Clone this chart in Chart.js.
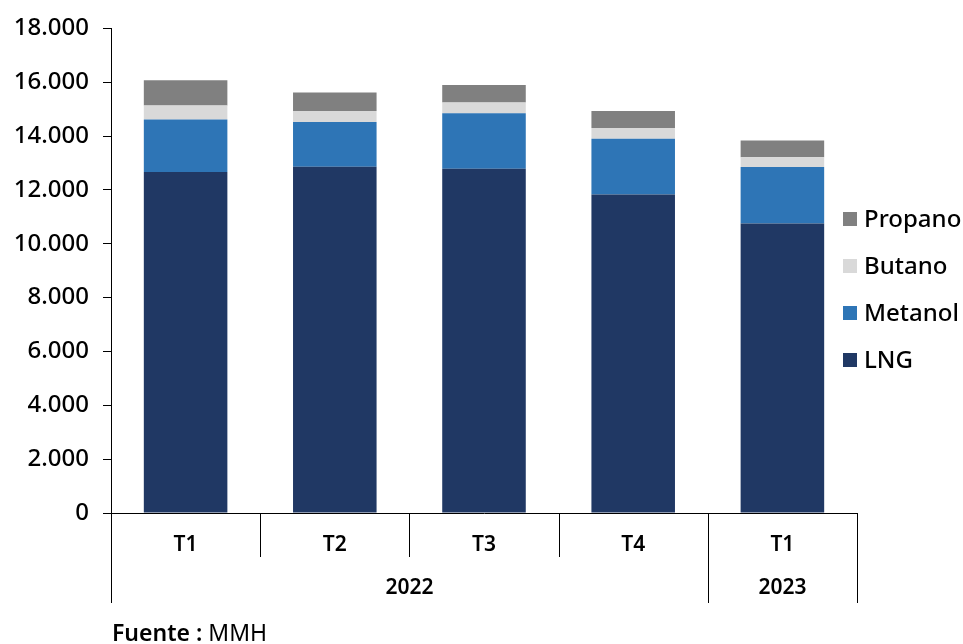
<!DOCTYPE html>
<html>
<head>
<meta charset="utf-8">
<script src="https://cdn.jsdelivr.net/npm/chart.js@4"></script>
<style>
  body { margin: 0; background: #fff; }
  #wrap { width: 963px; height: 644px; }
</style>
</head>
<body>
<div id="wrap"><canvas id="gasChart"></canvas></div>
<script>
const categories = ["T1", "T2", "T3", "T4", "T1"];
const years = ["2022", "2022", "2022", "2022", "2023"];
const lng = [12670, 12860, 12790, 11830, 10750];
const metanol = [1950, 1660, 2060, 2070, 2100];
const butano = [520, 410, 400, 400, 360];
const propano = [930, 690, 650, 630, 630];
const yMax = 18000;
const yStep = 2000;

const FONT = "'Noto Sans', 'DejaVu Sans', sans-serif";

const fmt = (v) => String(v).replace(/\B(?=(\d{3})+(?!\d))/g, ".");

// draws the two-level category axis, the legend and the source line
const extras = {
  id: "extras",
  afterDraw(chart) {
    const ctx = chart.ctx;
    const area = chart.chartArea;
    const n = categories.length;
    const step = (area.right - area.left) / n;
    const y0 = area.bottom;

    ctx.save();
    ctx.strokeStyle = "#000";
    ctx.lineWidth = 1;
    ctx.fillStyle = "#000";
    ctx.textAlign = "center";
    ctx.textBaseline = "middle";

    for (let i = 0; i <= n; i++) {
      const x = Math.round(area.left + i * step) + 0.5;
      const groupEdge = i === 0 || i === n || years[i] !== years[i - 1];
      ctx.beginPath();
      ctx.moveTo(x, y0);
      ctx.lineTo(x, groupEdge ? y0 + 90 : y0 + 44);
      ctx.stroke();
    }

    ctx.font = "600 21px " + FONT;
    categories.forEach((c, i) => {
      ctx.fillText(c, area.left + (i + 0.5) * step, y0 + 32);
    });

    let start = 0;
    for (let i = 1; i <= n; i++) {
      if (i === n || years[i] !== years[start]) {
        const cx = area.left + ((start + i) / 2) * step;
        ctx.fillText(years[start], cx, y0 + 75);
        start = i;
      }
    }

    // legend (reverse order)
    const ds = chart.data.datasets.slice().reverse();
    ctx.textAlign = "left";
    ctx.font = "500 24px " + FONT;
    ds.forEach((d, i) => {
      const cy = 219 + i * 47;
      ctx.fillStyle = d.backgroundColor;
      ctx.fillRect(843, cy - 7, 14, 14);
      ctx.fillStyle = "#000";
      ctx.fillText(d.label, 864, cy + 1);
    });

    // source
    ctx.font = "600 23px " + FONT;
    ctx.fillText("Fuente :", 112, 634);
    const w = ctx.measureText("Fuente : ").width;
    ctx.font = "23px " + FONT;
    ctx.fillText("MMH", 112 + w, 634);
    ctx.restore();
  },
};

new Chart(document.getElementById("gasChart"), {
  type: "bar",
  data: {
    labels: categories,
    datasets: [
      { label: "LNG", data: lng, backgroundColor: "#203864" },
      { label: "Metanol", data: metanol, backgroundColor: "#2E75B6" },
      { label: "Butano", data: butano, backgroundColor: "#D9D9D9" },
      { label: "Propano", data: propano, backgroundColor: "#808080" },
    ],
  },
  options: {
    responsive: true,
    maintainAspectRatio: false,
    animation: false,
    datasets: {
      bar: { categoryPercentage: 1, barPercentage: 0.56 },
    },
    layout: { padding: { top: 27, right: 106, left: 0, bottom: 0 } },
    scales: {
      x: {
        stacked: true,
        grid: { display: false },
        border: { display: true, color: "#000", width: 1 },
        ticks: { display: false },
        afterFit: (s) => { s.height = 131; },
      },
      y: {
        stacked: true,
        min: 0,
        max: yMax,
        ticks: {
          stepSize: yStep,
          color: "#000",
          padding: 14,
          font: { family: FONT, size: 24, weight: "500" },
          callback: (v) => fmt(v),
        },
        grid: { drawOnChartArea: false, drawTicks: true, tickLength: 8, color: "#000" },
        border: { display: true, color: "#000", width: 1 },
        afterFit: (s) => { s.width = 111; },
      },
    },
    plugins: {
      legend: { display: false },
      tooltip: { enabled: false },
    },
  },
  plugins: [extras],
});
</script>
</body>
</html>
